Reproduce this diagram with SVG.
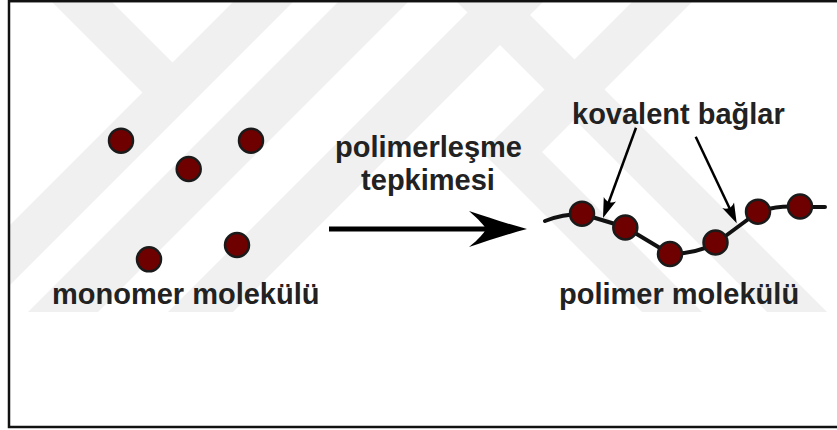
<svg xmlns="http://www.w3.org/2000/svg" xmlns:xlink="http://www.w3.org/1999/xlink" width="837" height="430" viewBox="0 0 837 430">
<style>
.wm{fill:#f0f0f0}
.mono{fill:#6f0000;stroke:#1a1a1a;stroke-width:2.5}
.lbl{font-family:"Liberation Sans",Arial,sans-serif;font-weight:bold;font-size:29px;fill:#222}
.chain{fill:none;stroke:#111;stroke-width:4;stroke-linejoin:round;stroke-linecap:round}
.thin{fill:none;stroke:#000;stroke-width:2.5}
</style>
<defs>
<clipPath id="wmclip"><rect x="10" y="2" width="827" height="310"/></clipPath>
<path id="ah" d="M0,0 L-20,-6.5 Q-14,0 -20,6.5 Z" fill="#000"/>
</defs>
<rect x="0" y="0" width="837" height="430" fill="#fff"/>
<g id="watermark" clip-path="url(#wmclip)">
<polygon class="wm" points="235,0 295,0 -25,320 -85,320"/>
<polygon class="wm" points="50,0 110,0 187.5,77.5 157.5,107.5"/>
<polygon class="wm" points="340,0 410,0 90,320 20,320"/>
<polygon class="wm" points="480,0 545,0 225,320 160,320"/>
<polygon class="wm" points="455,0 515,0 835,320 775,320"/>
<polygon class="wm" points="634,0 694,0 542,152 710,320 650,320 482,152"/>
</g>
<rect id="frame" x="9" y="1.2" width="840" height="425.8" fill="none" stroke="#111" stroke-width="2.5"/>
<g id="monomers">
<circle class="mono" cx="121" cy="140.7" r="12"/>
<circle class="mono" cx="251" cy="140.7" r="12"/>
<circle class="mono" cx="188.7" cy="169" r="12"/>
<circle class="mono" cx="149" cy="259.3" r="12"/>
<circle class="mono" cx="237" cy="245" r="12"/>
</g>
<text id="monomer-label" class="lbl" x="52" y="304">monomer molekülü</text>
<g id="reaction-label">
<text class="lbl" x="428.5" y="157" text-anchor="middle">polimerleşme</text>
<text class="lbl" x="428" y="189.5" text-anchor="middle">tepkimesi</text>
</g>
<g id="connectors">
<line x1="329" y1="229" x2="492" y2="229" stroke="#000" stroke-width="5"/>
<path d="M527,229 C508,224 487,217 469,211 C479,220 484,225 486,229 C484,233 479,239 469,247 C487,241 508,234 527,229 Z" fill="#000"/>
<line class="thin" x1="636" y1="127.7" x2="607.1" y2="206.7"/>
<use xlink:href="#ah" transform="translate(603,218) rotate(110.1)"/>
<line class="thin" x1="695.7" y1="136.7" x2="731.6" y2="212.5"/>
<use xlink:href="#ah" transform="translate(736.7,223.3) rotate(64.7)"/>
</g>
<g id="polymer">
<path class="chain" d="M545,221 C555,217 568,214 582,214 L625,227 L670,254 C690,254 705,249 716,243 L758,212 C775,206 790,206 800,207 L825,207"/>
<circle class="mono" cx="582" cy="213.7" r="12"/>
<circle class="mono" cx="625.3" cy="227.5" r="12"/>
<circle class="mono" cx="670" cy="254" r="12"/>
<circle class="mono" cx="715.5" cy="242.5" r="12"/>
<circle class="mono" cx="758" cy="211.7" r="12"/>
<circle class="mono" cx="800" cy="206.5" r="12"/>
</g>
<text id="covalent-label" class="lbl" x="572" y="124">kovalent bağlar</text>
<text id="polymer-label" class="lbl" x="559" y="304">polimer molekülü</text>
</svg>
